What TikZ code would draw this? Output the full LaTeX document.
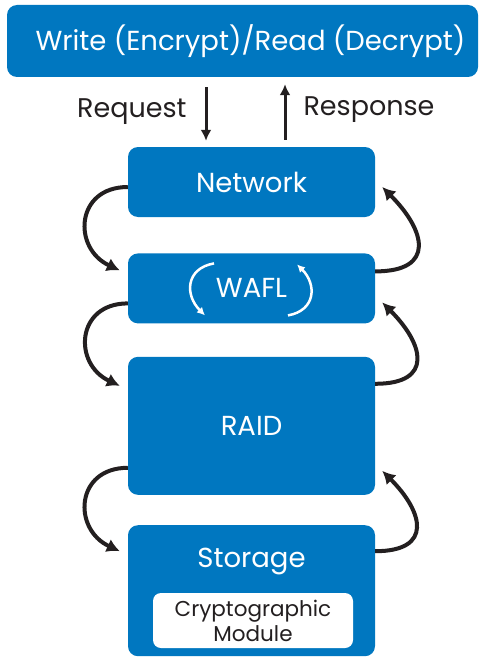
\documentclass[tikz,border=0pt]{standalone}
\usepackage{fontspec}
\setmainfont{Poppins}
\usetikzlibrary{positioning,arrows.meta,calc}
\definecolor{layerblue}{RGB}{0,119,192}
\definecolor{inkdark}{RGB}{35,31,32}
\tikzset{layer/.style={fill=layerblue, rounded corners=10pt, text=white, minimum width=247pt, align=center, font=\fontsize{27.5}{32}\selectfont},
cycle/.style={-{Latex[length=13pt,width=14pt]}, line width=4pt, draw=inkdark},
flow/.style={-{Latex[length=11pt,width=11pt]}, line width=3pt, draw=inkdark},
spin/.style={-{Latex[length=8pt,width=8pt]}, line width=2.5pt, draw=white}
}
\begin{document}
\begin{tikzpicture}[x=1pt, y=1pt, every node/.style={align=center}]
    \useasboundingbox (0,0) rectangle (481,-658);
    % Nodes
    \node [layer, minimum width=471pt, minimum height=72pt, font=\fontsize{27.5}{32}\selectfont] (app) at (242.5,-41) {\hspace*{16pt}Write (Encrypt)/Read (Decrypt)};
    \node [layer, minimum height=70pt] (network) at (251.5,-182) {Network};
    \node [layer, minimum height=70pt, below=36pt of network] (wafl) {WAFL};
    \node [layer, minimum height=138pt, below=33pt of wafl] (raid) {RAID};
    \node [layer, minimum height=131pt, below=30pt of raid] (storage) {};
    \node [text=white, font=\fontsize{27.5}{32}\selectfont] (storagelabel) at ([yshift=-36pt]storage.north) {Storage};
    \node [fill=white, rounded corners=8pt, minimum width=200pt, minimum height=55pt, text=inkdark, font=\fontsize{21.5}{25}\selectfont] (crypto) at ([xshift=1.5pt,yshift=-95.5pt]storage.north) {Cryptographic\\Module};
    % Request / Response
    \coordinate (reqtop) at ($(app.south -| network.north)+(-45.5,-10)$);
    \coordinate (reqbot) at ($(network.north)+(-45.5,6)$);
    \coordinate (restop) at ($(app.south -| network.north)+(33.5,-7)$);
    \coordinate (resbot) at ($(network.north)+(33.5,7)$);
    \draw [flow] (reqtop) -- (reqbot);
    \draw [flow] (resbot) -- (restop);
    \node [anchor=east, text=inkdark, font=\fontsize{27}{30}\selectfont] (request) at ($(reqtop)!0.5!(reqbot)+(-16,2)$) {Request};
    \node [anchor=west, text=inkdark, font=\fontsize{27}{30}\selectfont] (response) at ($(restop)!0.5!(resbot)+(15,2)$) {Response};
    % Down the stack
    \draw [cycle] ([yshift=-5pt]network.west) to[out=180, in=155, looseness=1.6] ([xshift=-8pt, yshift=18pt]wafl.west);
    \draw [cycle] ([yshift=-15pt]wafl.west) to[out=180, in=155, looseness=1.6] ([xshift=-8pt, yshift=40pt]raid.west);
    \draw [cycle] ([yshift=-42pt]raid.west) to[out=180, in=155, looseness=1.6] ([xshift=-8pt, yshift=39.5pt]storage.west);
    % Up the stack
    \draw [cycle] ([yshift=17pt]wafl.east) to[out=0, in=-45, looseness=1.85] ([xshift=7pt, yshift=-5pt]network.east);
    \draw [cycle] ([yshift=42pt]raid.east) to[out=0, in=-45, looseness=1.85] ([xshift=7pt, yshift=-14pt]wafl.east);
    \draw [cycle] ([yshift=39.5pt]storage.east) to[out=0, in=-45, looseness=1.85] ([xshift=7pt, yshift=-45pt]raid.east);
    % WAFL spin
    \draw [spin] ($(wafl.center)+(-37.5,25)$) to[out=190, in=135, looseness=1.4] ($(wafl.center)+(-46.5,-27)$);
    \draw [spin] ($(wafl.center)+(36.5,-27)$) to[out=10, in=-45, looseness=1.4] ($(wafl.center)+(45.5,24)$);
\end{tikzpicture}
\end{document}
